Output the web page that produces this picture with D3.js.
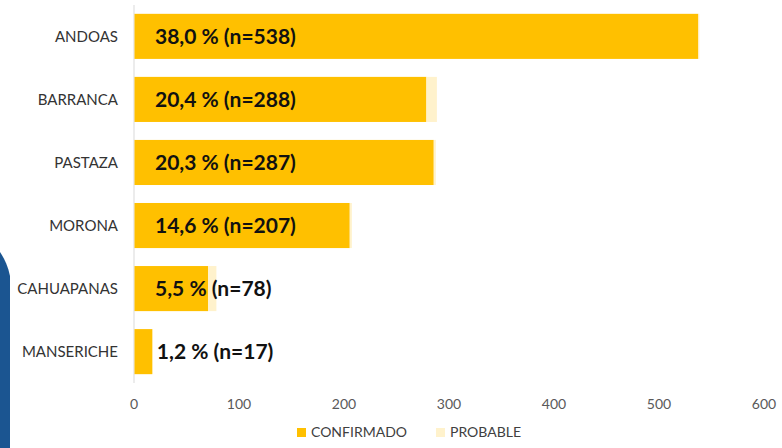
<!DOCTYPE html>
<html>
<head>
<meta charset="utf-8">
<script src="https://cdn.jsdelivr.net/npm/d3@7"></script>
<style>
  body { margin: 0; background: #fff; }
  svg { display: block; font-family: Lato, "Open Sans", sans-serif; }
</style>
</head>
<body>
<div id="chart"></div>
<script>
// data
var districts = ["ANDOAS", "BARRANCA", "PASTAZA", "MORONA", "CAHUAPANAS", "MANSERICHE"];
var confirmado = [537, 278, 285, 205, 70, 17];
var probable = [1, 10, 2, 2, 8, 0];
var pctLabels = ["38,0 %", "20,4 %", "20,3 %", "14,6 %", "5,5 %", "1,2 %"];
var xTicks = [0, 100, 200, 300, 400, 500, 600];
var seriesNames = ["CONFIRMADO", "PROBABLE"];
var seriesColors = ["#FFC000", "#FFF2CC"];

var width = 782, height = 448;

var svg = d3.select("#chart").append("svg")
  .attr("width", width)
  .attr("height", height);

// blue decoration on the left edge
svg.append("path")
  .attr("d", "M0,252 C4,258 8,266 10,276 L10,448 L0,448 Z")
  .attr("fill", "#1b5591");

var xScale = d3.scaleLinear().domain([0, 600]).range([134, 764]);
var yScale = d3.scaleBand().domain(districts).range([5, 383]).paddingInner(0.285).paddingOuter(0.14);

var rows = districts.map(function(d, i) {
  return {name: d, conf: confirmado[i], prob: probable[i], pct: pctLabels[i]};
});

// axis line
svg.append("line")
  .attr("x1", xScale(0)).attr("x2", xScale(0))
  .attr("y1", 5).attr("y2", 383)
  .attr("stroke", "#d9d9d9").attr("stroke-width", 1);

var g = svg.append("g");

g.selectAll("rect.conf")
  .data(rows)
  .enter().append("rect")
    .attr("class", "conf")
    .attr("x", xScale(0) + 0.5)
    .attr("y", function(d) { return yScale(d.name); })
    .attr("width", function(d) { return xScale(d.conf) - xScale(0); })
    .attr("height", yScale.bandwidth())
    .attr("fill", seriesColors[0]);

g.selectAll("rect.prob")
  .data(rows)
  .enter().append("rect")
    .attr("class", "prob")
    .attr("x", function(d) { return xScale(d.conf) + 0.5; })
    .attr("y", function(d) { return yScale(d.name); })
    .attr("width", function(d) { return xScale(d.prob) - xScale(0); })
    .attr("height", yScale.bandwidth())
    .attr("fill", seriesColors[1]);

// data labels: near the base, or just past the end for very short bars
g.selectAll("text.val")
  .data(rows)
  .enter().append("text")
    .attr("class", "val")
    .attr("x", function(d) {
      var end = xScale(d.conf + d.prob);
      return end < xScale(0) + 20 ? end + 5 : xScale(0) + 21;
    })
    .attr("y", function(d) { return yScale(d.name) + yScale.bandwidth() / 2; })
    .attr("dy", "0.35em")
    .style("font-size", "21px")
    .style("font-weight", "bold")
    .style("fill", "#111")
    .text(function(d) { return d.pct + " (n=" + (d.conf + d.prob) + ")"; });

// category labels
g.selectAll("text.cat")
  .data(rows)
  .enter().append("text")
    .attr("class", "cat")
    .attr("x", 118)
    .attr("y", function(d) { return yScale(d.name) + yScale.bandwidth() / 2; })
    .attr("dy", "0.35em")
    .attr("text-anchor", "end")
    .style("font-size", "15px")
    .style("fill", "#333")
    .text(function(d) { return d.name; });

// x tick labels
svg.selectAll("text.tick")
  .data(xTicks)
  .enter().append("text")
    .attr("class", "tick")
    .attr("x", function(d) { return xScale(d); })
    .attr("y", 404)
    .attr("dy", "0.35em")
    .attr("text-anchor", "middle")
    .style("font-size", "14px")
    .style("fill", "#595959")
    .text(function(d) { return d; });

// legend
var legendX = [297, 436];
var legend = svg.selectAll("g.leg")
  .data(seriesNames)
  .enter().append("g")
    .attr("class", "leg")
    .attr("transform", function(d, i) { return "translate(" + legendX[i] + ",428)"; });
legend.append("rect")
  .attr("width", 9).attr("height", 9)
  .attr("fill", function(d, i) { return seriesColors[i]; });
legend.append("text")
  .attr("x", 14)
  .attr("y", 4.5)
  .attr("dy", "0.35em")
  .style("font-size", "14px")
  .style("fill", "#404040")
  .text(function(d) { return d; });
</script>
</body>
</html>
